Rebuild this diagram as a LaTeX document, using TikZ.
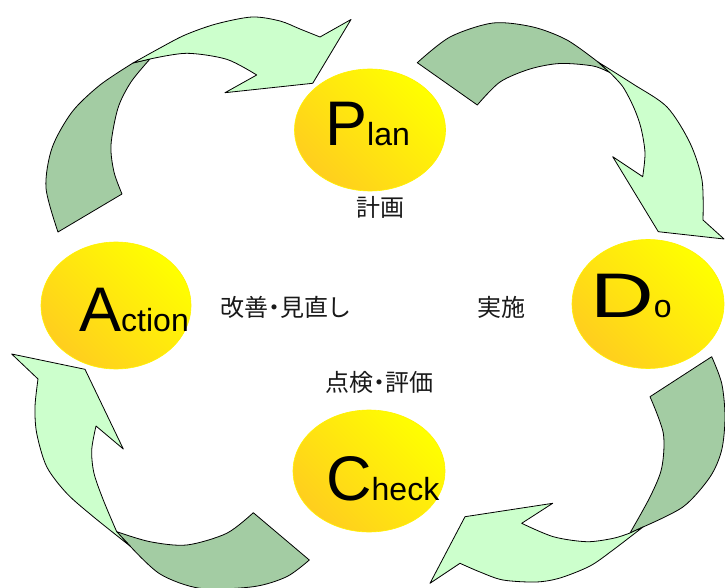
\documentclass[tikz,border=0pt]{standalone}
\usepackage{fontspec}
\setmainfont{Liberation Sans}
\newfontfamily\jpfont[RawFeature=+palt]{Noto Sans CJK JP}
\usetikzlibrary{shapes.geometric}
\definecolor{lgreen}{RGB}{204,255,204}
\definecolor{dgreen}{RGB}{163,204,163}
\definecolor{gold}{RGB}{255,206,30}
\newcommand\capfont{\fontsize{63}{63}\selectfont}
\newcommand\restfont{\fontsize{32}{32}\selectfont}
\begin{document}
\begin{tikzpicture}[x=1pt,y=-1pt,line join=round]
\tikzset{
  back/.style={fill=dgreen,draw=black,line width=0.8pt},
  front/.style={fill=lgreen,draw=black,line width=0.8pt},
  ball/.style={ellipse,draw=yellow,line width=0.6pt,top color=yellow,bottom color=gold,shading angle=-45,inner sep=0},
  word/.style={anchor=base west,inner sep=0,text=black},
  jlabel/.style={inner sep=0,text=black!90,font=\jpfont\fontsize{24}{24}\selectfont}
}
\useasboundingbox (0,0) rectangle (725,588);
\clip (0,0) rectangle (725,588);

% arrow 1: Action -> Plan
\draw[back] (58,232) -- plot[smooth,tension=0.5] coordinates {(58,232) (46,188) (52,148) (72,112) (100,85) (133,63)}
  -- (150,59) -- plot[smooth,tension=0.5] coordinates {(150,59) (131,82) (118,108) (111,145) (114,172) (122,194)} -- cycle;
\draw[front] (133,63) -- plot[smooth,tension=0.5] coordinates {(133,63) (160,48) (185,35) (216,24) (252,17) (280,21) (300,29) (320,37)}
  -- (351,19.5) -- (312.7,83.3) -- (225,92.7) -- (256.7,75)
  -- plot[smooth,tension=0.5] coordinates {(256.7,75) (226.7,59.3) (186.7,53.3) (150,59)} -- cycle;

% arrow 2: Plan -> Do
\draw[back] (417.3,62.7) -- plot[smooth,tension=0.5] coordinates {(417.3,62.7) (450,37) (493,23) (533,27) (567,40) (598,62)}
  -- (610,72.7) -- plot[smooth,tension=0.5] coordinates {(610,72.7) (593,66) (560,63.5) (530,69) (500,82) (477.3,105)} -- cycle;
\draw[front] (598,62) -- plot[smooth,tension=0.5] coordinates {(598,62) (633,84) (667,107) (690,143) (702,180) (703,220)}
  -- (724,239) -- (658.3,231.7) -- (612.7,156.7) -- (642.7,176.7)
  -- plot[smooth,tension=0.5] coordinates {(642.7,176.7) (645,153) (641,128) (634,108) (623,87) (610,72.7)} -- cycle;

% arrow 3: Do -> Check
\draw[back] (711.7,356.7) -- plot[smooth,tension=0.5] coordinates {(711.7,356.7) (721.7,383.3) (725,416.7) (721.7,450) (710,477) (683.3,506.7) (643,527)}
  -- (630,533) -- plot[smooth,tension=0.5] coordinates {(630,533) (650,497) (661.7,468) (663.3,433.3) (650,396.7)} -- cycle;
\draw[front] (643,527) -- plot[smooth,tension=0.5] coordinates {(643,527) (613,550) (590,566) (560,578) (536,582) (503,580) (480,572) (460,563.3)}
  -- (430,583.3) -- (465,516.7) -- (552.7,503.3) -- (521.7,523.3)
  -- plot[smooth,tension=0.5] coordinates {(521.7,523.3) (553.3,536.7) (586.7,541.7) (613.3,538.3) (630,533)} -- cycle;

% arrow 4: Check -> Action
\draw[back] (309.3,560) -- plot[smooth,tension=0.5] coordinates {(309.3,560) (286.7,576.7) (253.3,586.7) (200,588.3) (160,574) (130,546)}
  -- (116.7,531.7) -- plot[smooth,tension=0.5] coordinates {(116.7,531.7) (150,541.7) (186.7,545) (226.7,533.3) (253.3,512.7)} -- cycle;
\draw[front] (130,546) -- plot[smooth,tension=0.5] coordinates {(130,546) (93.3,516.7) (66.7,493.3) (46.7,466.7) (36.7,433.3) (35,406.7) (38,379)}
  -- (11.7,354) -- (85,369.3) -- (123.3,449) -- (96,426)
  -- plot[smooth,tension=0.5] coordinates {(96,426) (91.7,450) (94,473.3) (103.3,500) (116.7,531.7)} -- cycle;

% circles
\node[ball,minimum width=151pt,minimum height=122pt] (plan) at (370,130) {};
\node[ball,minimum width=150pt,minimum height=127pt] (action) at (116,305.5) {};
\node[ball,minimum width=152pt,minimum height=129pt] (do) at (648,304) {};
\node[ball,minimum width=152pt,minimum height=122pt] (check) at (369,471) {};

% titles
\node[word] (tplan) at (325,146) {\capfont P\restfont lan};
\node[word] (taction) at (79,331) {\capfont A\restfont ction};
\node[word] (tdo) at (590,317) {\capfont\scalebox{1.4}[1]{D}\restfont o};
\node[word] (tcheck) at (326,500) {\capfont C\restfont heck};

% labels
\node[jlabel] (lplan) at (380,207.5) {計画};
\node[jlabel] (laction) at (285,307) {改善・見直し};
\node[jlabel] (ldo) at (501,307) {実施};
\node[jlabel] (lcheck) at (379,382) {点検・評価};
\end{tikzpicture}
\end{document}
